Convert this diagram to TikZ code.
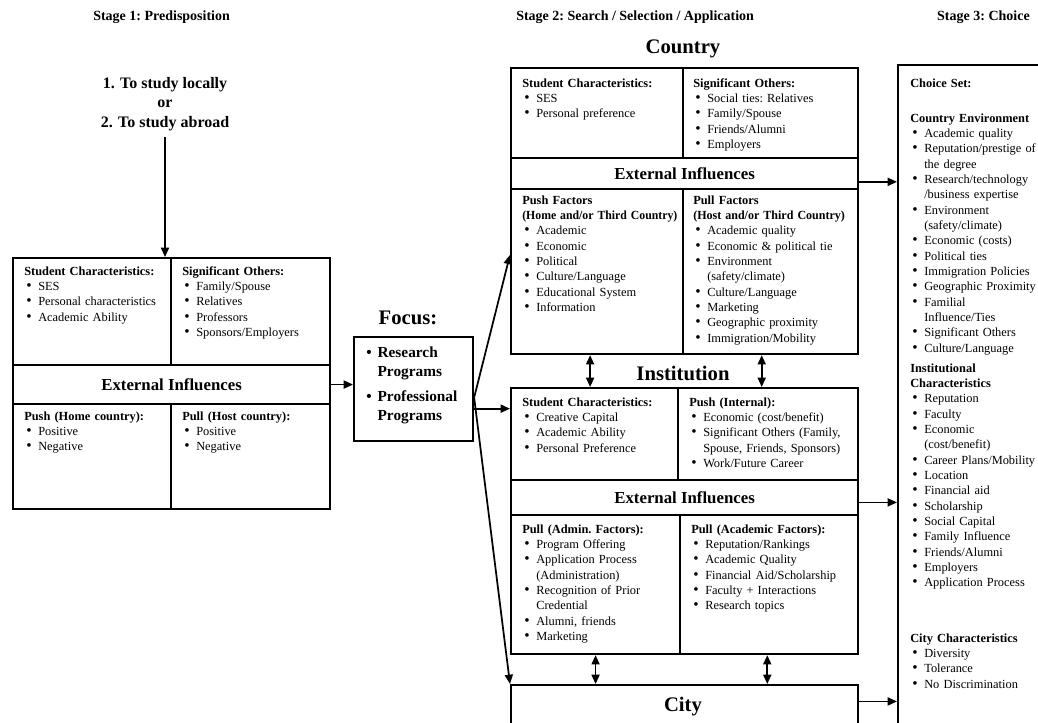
\documentclass[tikz,border=0pt]{standalone}
\usepackage{fontspec}
\setmainfont{Liberation Serif}
\usetikzlibrary{arrows.meta,calc}
\newcommand\bul{{\fontsize{11.5pt}{0pt}\selectfont\textbullet}}
\newcommand\bi{\par\noindent\hspace*{1.5pt}\makebox[9pt][l]{\bul}}
\newcommand\cl{\par\noindent\hspace*{10.5pt}}
\newcommand\cell[5]{\node[cell, minimum width={(#4-#2)*0.75pt}, minimum height={(#5-#3)*0.75pt}] (#1) at (#2,#3) {};}
\tikzset{
  cell/.style={draw, line width=1.6pt, inner sep=0pt, anchor=north west},
  txt/.style={anchor=base west, inner sep=0pt, text width=#1, align=left, font=\frenchspacing\fontsize{9.3pt}{11.5pt}\selectfont},
  txt/.default=120pt,
  band/.style={font=\bfseries\fontsize{12.6pt}{14pt}\selectfont, inner sep=0pt},
  title/.style={font=\bfseries\fontsize{15.5pt}{17pt}\selectfont, inner sep=0pt},
  stage/.style={font=\frenchspacing\bfseries\fontsize{10.5pt}{12pt}\selectfont, inner sep=0pt},
  arr/.style={-{Triangle[length=7pt,width=6pt]}, line width=1.3pt},
  darr/.style={{Triangle[length=7pt,width=6pt]}-{Triangle[length=7pt,width=6pt]}, line width=1.3pt},
}
\begin{document}
\begin{tikzpicture}[x=0.75pt,y=-0.75pt]
\useasboundingbox (0,0) rectangle (1038,722);
\clip (0,0) rectangle (1038,722);

% stage labels
\node[stage, anchor=west] (s1) at (93,17) {Stage 1: Predisposition};
\node[stage, anchor=west] (s2) at (516,17) {Stage 2: Search / Selection / Application};
\node[stage, anchor=east] (s3) at (1030,17) {Stage 3: Choice};

% stage 1
\node[anchor=base, inner sep=0pt, align=center, font=\bfseries\fontsize{12pt}{14.3pt}\selectfont] (opt) at (165,127) {1. To study locally\\or\\2. To study abroad};

\cell{Ltl}{12}{257}{170}{364}
\cell{Ltr}{170}{257}{329}{364}
\cell{Lband}{12}{364}{329}{403}
\cell{Lbl}{12}{403}{170}{508}
\cell{Lbr}{170}{403}{329}{508}

\node[txt=115pt] (ltlt) at (24,275) {\textbf{Student Characteristics:}\bi SES\bi Personal characteristics\bi Academic Ability};
\node[txt=110pt] (ltrt) at (182,275) {\textbf{Significant Others:}\bi Family/Spouse\bi Relatives\bi Professors\bi Sponsors/Employers};
\node[band] (lbandt) at (Lband) {External Influences};
\node[txt=115pt] (lblt) at (24,420) {\textbf{Push (Home country):}\bi Positive\bi Negative};
\node[txt=110pt] (lbrt) at (182,420) {\textbf{Pull (Host country):}\bi Positive\bi Negative};

\draw[arr, shorten <=5pt] (opt.south) -- (opt.south |- Ltl.north);

% focus
\node[title] (focust) at (408,318) {Focus:};
\cell{focus}{353}{336}{472}{440}
\node[anchor=base west, inner sep=0pt, text width=80pt, align=left, font=\bfseries\fontsize{11.5pt}{14.3pt}\selectfont] (focusl) at (366,357) {\noindent\makebox[8.5pt][l]{\bul}Research\par\noindent\hspace*{8.5pt}Programs\par\vspace{5pt}\noindent\makebox[8.5pt][l]{\bul}Professional\par\noindent\hspace*{8.5pt}Programs};
\draw[arr] (Lband.east) -- (Lband.east -| focus.west);

% country
\node[title] (ctitle) at (683,49) {Country};
\cell{Ctl}{510}{67}{682}{157}
\cell{Ctr}{682}{67}{857}{157}
\cell{Cband}{510}{157}{857}{188}
\cell{Cbl}{510}{188}{682}{353}
\cell{Cbr}{682}{188}{857}{353}
\node[txt=120pt] (ctlt) at (522,87) {\textbf{Student Characteristics:}\bi SES\bi Personal preference};
\node[txt=120pt] (ctrt) at (693,87) {\textbf{Significant Others:}\bi Social ties: Relatives\bi Family/Spouse\bi Friends/Alumni\bi Employers};
\node[band] (cbandt) at (Cband) {External Influences};
\node[txt=125pt] (cblt) at (522,204) {\textbf{Push Factors}\par\noindent\scalebox{0.95}[1]{\textbf{(Home and/or Third Country)}}\bi Academic\bi Economic\bi Political\bi Culture/Language\bi Educational System\bi Information};
\node[txt=125pt] (cbrt) at (693,204) {\textbf{Pull Factors}\par\noindent\scalebox{0.97}[1]{\textbf{(Host and/or Third Country)}}\bi Academic quality\bi Economic \& political tie\bi Environment\cl(safety/climate)\bi Culture/Language\bi Marketing\bi Geographic proximity\bi Immigration/Mobility};

% institution
\node[title] (ititle) at (683,373) {Institution};
\cell{Itl}{510}{387}{677}{479}
\cell{Itr}{677}{387}{857}{479}
\cell{Iband}{510}{479}{857}{514}
\cell{Ibl}{510}{514}{679}{653}
\cell{Ibr}{679}{514}{857}{653}
\node[txt=120pt] (itlt) at (522,406) {\textbf{Student Characteristics:}\bi Creative Capital\bi Academic Ability\bi Personal Preference};
\node[txt=125pt] (itrt) at (689,406) {\textbf{Push (Internal):}\bi Economic (cost/benefit)\bi Significant Others (Family,\cl Spouse, Friends, Sponsors)\bi Work/Future Career};
\node[band] (ibandt) at (Iband) {External Influences};
\node[txt=120pt] (iblt) at (522,533) {\textbf{Pull (Admin. Factors):}\bi Program Offering\bi Application Process\cl(Administration)\bi Recognition of Prior\cl Credential\bi Alumni, friends\bi Marketing};
\node[txt=125pt] (ibrt) at (691,533) {\textbf{Pull (Academic Factors):}\bi Reputation/Rankings\bi Academic Quality\bi Financial Aid/Scholarship\bi Faculty + Interactions\bi Research topics};

% city
\cell{City}{510}{684}{857}{740}
\node[title] (citytitle) at (683,707) {City};

% choice
\cell{Choice}{897}{64}{1060}{740}
\node[txt=100pt] (ch0) at (910,87) {\textbf{Choice Set:}};
\node[txt=100pt] (ch1) at (910,122) {\textbf{Country Environment}\bi Academic quality\bi Reputation/prestige of\cl the degree\bi Research/technology\cl/business expertise\bi Environment\cl(safety/climate)\bi Economic (costs)\bi Political ties\bi Immigration Policies\bi Geographic Proximity\bi Familial\cl Influence/Ties\bi Significant Others\bi Culture/Language};
\node[txt=100pt] (ch2) at (910,372) {\textbf{Institutional}\par\noindent\textbf{Characteristics}\bi Reputation\bi Faculty\bi Economic\cl(cost/benefit)\bi Career Plans/Mobility\bi Location\bi Financial aid\bi Scholarship\bi Social Capital\bi Family Influence\bi Friends/Alumni\bi Employers\bi Application Process};
\node[txt=100pt] (ch3) at (910,642) {\textbf{City Characteristics}\bi Diversity\bi Tolerance\bi No Discrimination};

% connectors from focus
\coordinate (fo) at ($(focus.north east)!0.58!(focus.south east)$);
\coordinate (cin) at ($(Cbl.north west)!0.4!(Cbl.south west)$);
\coordinate (iin) at ($(Itl.north west)!0.23!(Itl.south west)$);
\draw[arr] (fo) -- (cin);
\draw[arr] (focus.east |- iin) -- (iin);
\draw[arr] (fo) -- (City.north west);

% to choice
\coordinate (ca) at ($(Cband.north east)!0.75!(Cband.south east)$);
\coordinate (ia) at ($(Iband.north east)!0.63!(Iband.south east)$);
\coordinate (cya) at ($(City.north east)!0.3!(City.south east)$);
\draw[arr] (ca) -- (ca -| Choice.west);
\draw[arr] (ia) -- (ia -| Choice.west);
\draw[arr] (cya) -- (cya -| Choice.west);

% double arrows
\coordinate (d1) at ($(Cbl.south west)!0.46!(Cbl.south east)$);
\coordinate (d2) at ($(Cbr.south west)!0.45!(Cbr.south east)$);
\coordinate (d3) at ($(Ibl.south west)!0.5!(Ibl.south east)$);
\coordinate (d4) at ($(Ibr.south west)!0.49!(Ibr.south east)$);
\draw[darr] (d1) -- (d1 |- Itl.north);
\draw[darr] (d2) -- (d2 |- Itr.north);
\draw[darr] (d3) -- (d3 |- City.north);
\draw[darr] (d4) -- (d4 |- City.north);
\end{tikzpicture}
\end{document}
